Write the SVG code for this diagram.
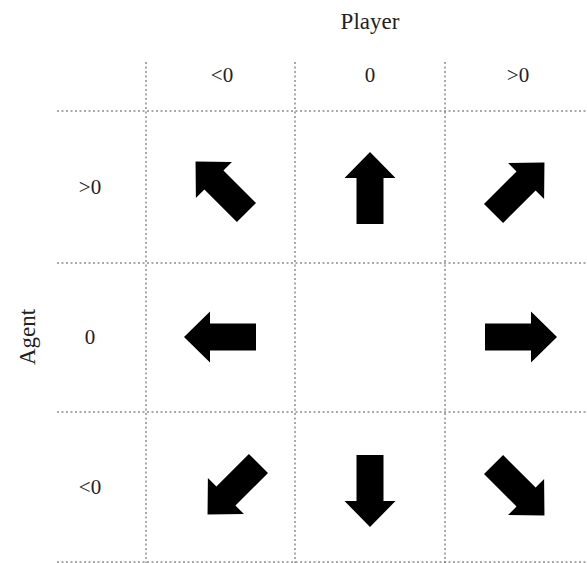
<svg xmlns="http://www.w3.org/2000/svg" width="587" height="563" viewBox="0 0 587 563">
<style>
.t{font-family:"Liberation Serif","DejaVu Serif",serif;fill:#222;text-anchor:middle;font-variant-numeric:oldstyle-nums}
.h{font-size:21px}
.ti{font-size:23px}
.g{stroke:#555;stroke-width:1;stroke-dasharray:2 2.5;fill:none}
</style>
<defs>
<path id="arr" d="M-36,-13.5 L10,-13.5 L10,-25.5 L36,0 L10,25.5 L10,13.5 L-36,13.5 Z" fill="#000"/>
</defs>
<rect width="587" height="563" fill="#fff"/>
<g id="grid">
<path class="g" d="M57,111H587M57,263H587M57,412H587M57,562H587"/>
<path class="g" d="M146,62V563M295,62V563M445,62V563"/>
</g>
<g id="titles">
<text class="t ti" x="370" y="29">Player</text>
<text class="t ti" transform="translate(35,337) rotate(-90)">Agent</text>
</g>
<g id="colheads">
<text class="t h" x="222" y="82">&lt;0</text>
<text class="t h" x="370" y="82">0</text>
<text class="t h" x="518" y="82">&gt;0</text>
</g>
<g id="rowheads">
<text class="t h" x="90" y="194">&gt;0</text>
<text class="t h" x="90" y="344">0</text>
<text class="t h" x="90" y="494">&lt;0</text>
</g>
<g id="arrows">
<use href="#arr" transform="translate(221,187) rotate(-135)"/>
<use href="#arr" transform="translate(370,188) rotate(-90)"/>
<use href="#arr" transform="translate(519,188) rotate(-45)"/>
<use href="#arr" transform="translate(220,337) rotate(180)"/>
<use href="#arr" transform="translate(521,337)"/>
<use href="#arr" transform="translate(233,489) rotate(135)"/>
<use href="#arr" transform="translate(370,491) rotate(90)"/>
<use href="#arr" transform="translate(519,490) rotate(45)"/>
</g>
</svg>
